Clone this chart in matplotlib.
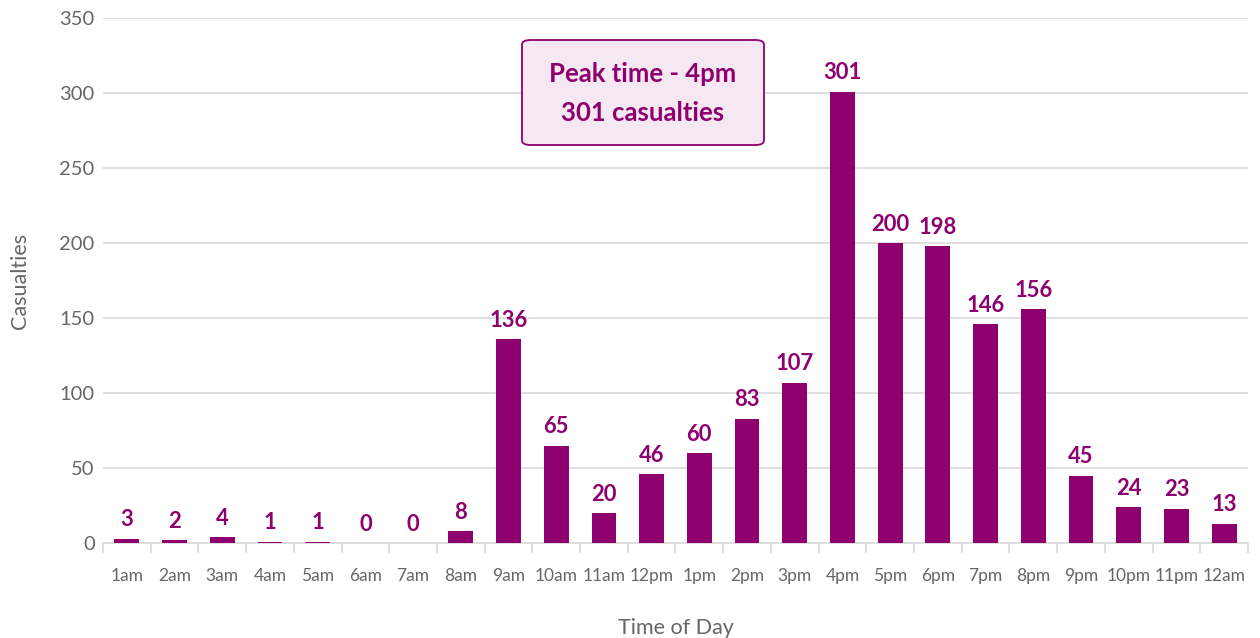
import matplotlib
matplotlib.use("Agg")
import matplotlib.pyplot as plt
from matplotlib.patches import FancyBboxPatch

hours = ["1am", "2am", "3am", "4am", "5am", "6am", "7am", "8am", "9am", "10am",
         "11am", "12pm", "1pm", "2pm", "3pm", "4pm", "5pm", "6pm", "7pm", "8pm",
         "9pm", "10pm", "11pm", "12am"]
casualties = [3, 2, 4, 1, 1, 0, 0, 8, 136, 65, 20, 46, 60, 83, 107, 301,
              200, 198, 146, 156, 45, 24, 23, 13]
y_ticks = [0, 50, 100, 150, 200, 250, 300, 350]

BAR = "#8e006e"
GRID = "#dcdcdc"
TXT = "#666666"

plt.rcParams["font.family"] = ["Lato", "DejaVu Sans"]

fig = plt.figure(figsize=(12.6, 6.38), dpi=100)
ax = fig.add_axes([103 / 1260, 1 - 543 / 638, (1248 - 103) / 1260, (543 - 18) / 638])

x = list(range(len(hours)))
ax.bar(x, casualties, width=0.52, color=BAR, zorder=3)

for xi, v in zip(x, casualties):
    ax.text(xi, v + 5.5, str(v), ha="center", va="bottom", color=BAR,
            fontsize=15.8, fontweight="bold", zorder=4)

ax.set_xlim(-0.5, len(hours) - 0.5)
ax.set_ylim(0, 350)
ax.set_yticks(y_ticks)
ax.set_yticklabels([str(t) for t in y_ticks], fontsize=14.5, color=TXT)
ax.set_xticks(x)
ax.set_xticklabels(hours, fontsize=12.5, color=TXT)
ax.set_xticks([i - 0.5 for i in range(len(hours) + 1)], minor=True)

ax.grid(axis="y", color=GRID, linewidth=1.3, zorder=0)
for s in ["top", "right", "left"]:
    ax.spines[s].set_visible(False)
ax.spines["bottom"].set_color(GRID)
ax.spines["bottom"].set_linewidth(1.3)
ax.tick_params(axis="y", length=0, pad=6)
ax.tick_params(axis="x", which="major", length=0, pad=18)
ax.tick_params(axis="x", which="minor", length=7, color=GRID, width=1.3)

ax.set_xlabel("Time of Day", fontsize=15.5, color=TXT, labelpad=24.5)
ax.set_ylabel("Casualties", fontsize=15.5, color=TXT, labelpad=21)

# Peak annotation box
peak_idx = casualties.index(max(casualties))
box = FancyBboxPatch((522 / 1260, 1 - 145 / 638), (764 - 522) / 1260, (145 - 40) / 638,
                     boxstyle="round,pad=0,rounding_size=0.007",
                     transform=fig.transFigure, facecolor="#f5e8f2",
                     edgecolor=BAR, linewidth=1.3, zorder=5)
fig.patches.append(box)
fig.text(643 / 1260, 1 - 74 / 638, f"Peak time - {hours[peak_idx]}", ha="center",
         va="center", color=BAR, fontsize=18.5, fontweight="bold", zorder=6)
fig.text(643 / 1260, 1 - 113 / 638, f"{casualties[peak_idx]} casualties", ha="center",
         va="center", color=BAR, fontsize=18.5, fontweight="bold", zorder=6)

fig.savefig("out.png", dpi=100)
